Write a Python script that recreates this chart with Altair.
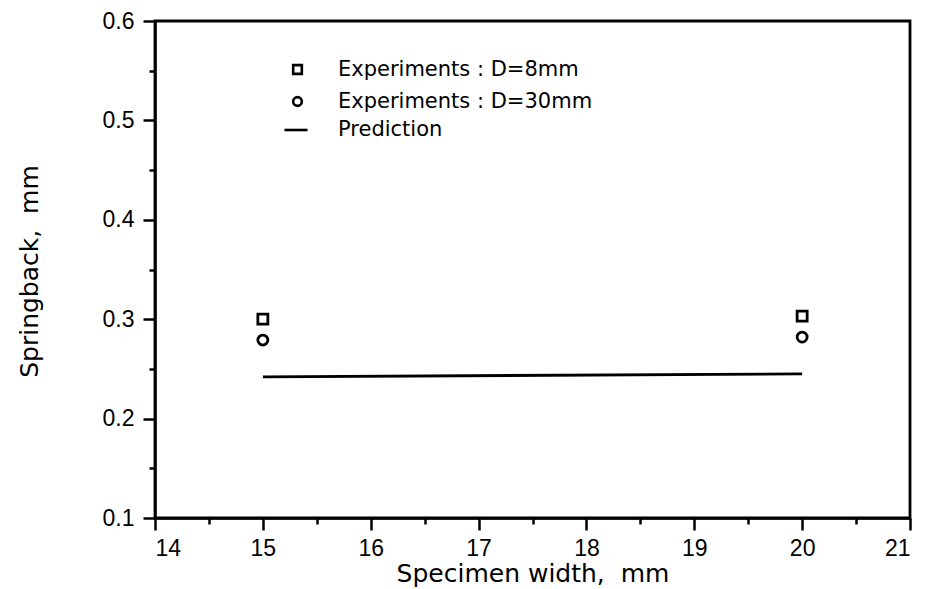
import altair as alt
import pandas as pd

# ---- data ----
width_mm = [15, 20]
sb_d8 = [0.300, 0.303]
sb_d30 = [0.279, 0.282]
pred = [0.242, 0.245]

series_exp = ["Experiments : D=8mm", "Experiments : D=30mm"]
series_pred = ["Prediction"]

x_major = [14, 15, 16, 17, 18, 19, 20, 21]
x_minor = [14.5, 15.5, 16.5, 17.5, 18.5, 19.5, 20.5]
y_major = [0.1, 0.2, 0.3, 0.4, 0.5, 0.6]
y_minor = [0.15, 0.25, 0.35, 0.45, 0.55]

exp_df = pd.DataFrame({
    "width": width_mm + width_mm,
    "springback": sb_d8 + sb_d30,
    "series": [series_exp[0]] * len(width_mm) + [series_exp[1]] * len(width_mm),
})
pred_df = pd.DataFrame({
    "width": width_mm,
    "springback": pred,
    "series": series_pred * len(width_mm),
})

xscale = alt.Scale(domain=[14, 21], nice=False, zero=False)
yscale = alt.Scale(domain=[0.1, 0.6], nice=False, zero=False)

TICK_FONT = "Liberation Sans"
TEXT_FONT = "DejaVu Sans"

x_major_axis = alt.Axis(
    values=x_major, orient="bottom", tickSize=12, tickWidth=2.5,
    labelFont=TICK_FONT, labelFontSize=23, labelPadding=7, labelColor="black",
    format="d", grid=False, domainWidth=2.5, domainColor="black", tickColor="black",
    title="Specimen width,\u00a0 mm", titleFont=TEXT_FONT, titleFontSize=25,
    titleFontWeight="normal", titleColor="black", titleY=63, titleBaseline="alphabetic",
)
y_major_axis = alt.Axis(
    values=y_major, orient="left", tickSize=12, tickWidth=2.5,
    labelFont=TICK_FONT, labelFontSize=23, labelPadding=9, labelColor="black",
    format=".1f", grid=False, domainWidth=2.5, domainColor="black", tickColor="black",
    title="Springback,\u00a0 mm", titleFont=TEXT_FONT, titleFontSize=25,
    titleFontWeight="normal", titleColor="black", titleX=-118, titleY=250,
    titleBaseline="alphabetic",
)
x_minor_axis = alt.Axis(
    values=x_minor, orient="bottom", tickSize=6, tickWidth=2.5, tickColor="black",
    labels=False, domain=False, grid=False, title=None,
)
y_minor_axis = alt.Axis(
    values=y_minor, orient="left", tickSize=6, tickWidth=2.5, tickColor="black",
    labels=False, domain=False, grid=False, title=None,
)

points = alt.Chart(exp_df).mark_point(
    filled=False, size=100, strokeWidth=2.8, color="black", opacity=1
).encode(
    x=alt.X("width:Q", scale=xscale, axis=x_major_axis),
    y=alt.Y("springback:Q", scale=yscale, axis=y_major_axis),
    shape=alt.Shape(
        "series:N",
        scale=alt.Scale(domain=series_exp, range=["square", "circle"]),
        legend=alt.Legend(
            title=None, orient="none", legendX=132, legendY=38,
            symbolSize=75, symbolStrokeWidth=2.6, symbolStrokeColor="black",
            symbolFillColor="white", labelFont=TEXT_FONT, labelFontSize=21,
            labelColor="black", labelOffset=30, rowPadding=10, padding=0,
            labelLimit=400,
        ),
    ),
)

line = alt.Chart(pred_df).mark_line(strokeWidth=2.8).encode(
    x=alt.X("width:Q", scale=xscale, axis=x_minor_axis),
    y=alt.Y("springback:Q", scale=yscale, axis=y_minor_axis),
    color=alt.Color(
        "series:N",
        scale=alt.Scale(domain=series_pred, range=["black"]),
        legend=alt.Legend(
            title=None, orient="none", legendX=128, legendY=96,
            symbolType="stroke", symbolSize=529, symbolStrokeWidth=2.6,
            labelFont=TEXT_FONT, labelFontSize=21, labelColor="black",
            labelOffset=29, padding=0, labelLimit=400,
        ),
    ),
)

chart = alt.layer(points, line).resolve_axis(
    x="independent", y="independent"
).resolve_scale(
    x="shared", y="shared"
).resolve_legend(
    shape="independent", color="independent"
).properties(
    width=755, height=497,
    autosize=alt.AutoSizeParams(type="none"),
    padding={"left": 155, "top": 21, "right": 17, "bottom": 71},
    background="white",
).configure_view(
    stroke="black", strokeWidth=2.8
)

chart.save("out.html", embed_options={"renderer": "svg", "actions": False})
